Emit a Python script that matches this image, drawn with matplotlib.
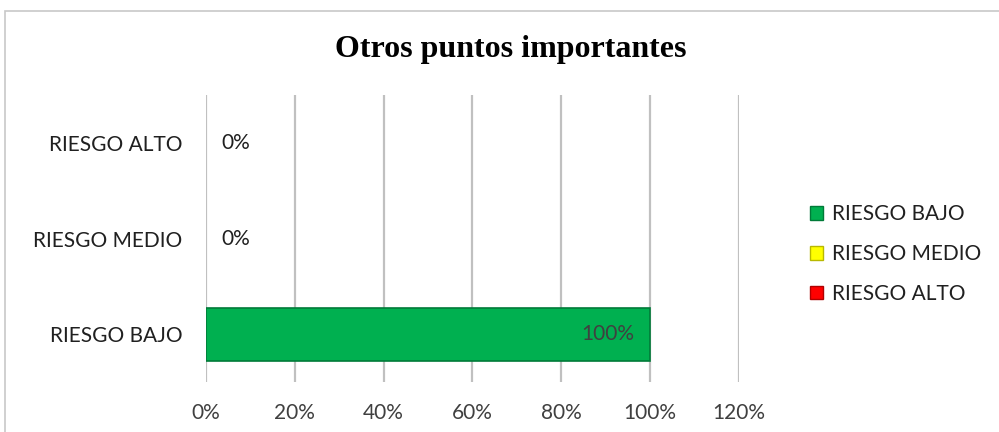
import matplotlib.pyplot as plt
from matplotlib.patches import Patch, Rectangle

# Datos del gráfico
categorias = ['RIESGO BAJO', 'RIESGO MEDIO', 'RIESGO ALTO']
valores = [1.00, 0.00, 0.00]
colores = ['#00B050', '#FFFF00', '#FF0000']
bordes = ['#007A38', '#B8B800', '#B00000']
ticks_x = [0, 0.2, 0.4, 0.6, 0.8, 1.0, 1.2]
etiquetas_x = ['0%', '20%', '40%', '60%', '80%', '100%', '120%']

fuente = 'Lato'
tam = 15
gris_texto = '#404040'

fig = plt.figure(figsize=(9.99, 4.32), dpi=100)
ax = fig.add_axes([0.2062, 0.1157, 0.5335, 0.664])

# Marco del área del gráfico
fig.patches.append(Rectangle((0.005, -0.05), 1.2, 1.025, transform=fig.transFigure,
                             fill=False, edgecolor='#C8C8C8', linewidth=1.2))

pos = range(len(categorias))
ax.barh(pos, valores, height=0.55, color=colores, edgecolor=bordes,
        linewidth=[1.2 if v > 0 else 0 for v in valores], zorder=3)

for i, v in zip(pos, valores):
    texto = f'{v * 100:.0f}%'
    if v > 0.05:
        ax.text(v - 0.035, i, texto, ha='right', va='center', fontsize=tam,
                color=gris_texto, family=fuente, zorder=4)
    else:
        ax.text(v + 0.035, i, texto, ha='left', va='center', fontsize=tam,
                color='#202020', family=fuente, zorder=4)

ax.set_xlim(0, 1.2)
ax.set_ylim(-0.5, 2.5)
ax.set_xticks(ticks_x)
ax.set_xticklabels(etiquetas_x, family=fuente, fontsize=tam, color=gris_texto)
ax.set_yticks(list(pos))
ax.set_yticklabels(categorias, family=fuente, fontsize=tam, color='#202020')
ax.tick_params(axis='both', length=0)
ax.tick_params(axis='x', pad=15)
ax.tick_params(axis='y', pad=17)
ax.xaxis.grid(True, color='#C0C0C0', linewidth=1.6, zorder=0)
ax.set_axisbelow(True)
for lado in ax.spines.values():
    lado.set_visible(False)

fig.text(0.511, 0.886, 'Otros puntos importantes', ha='center', va='center',
         family='Liberation Serif', fontweight='bold', fontsize=23, color='black')

manejadores = [Patch(facecolor=c, edgecolor=b, linewidth=1.0) for c, b in zip(colores, bordes)]
fig.legend(manejadores, categorias, loc='center left', bbox_to_anchor=(0.792, 0.412),
           frameon=False, prop={'family': fuente, 'size': tam},
           handlelength=0.65, handleheight=0.65, handletextpad=0.4,
           labelspacing=0.95, labelcolor='#202020')

fig.savefig('out.png', dpi=100, facecolor='white')
